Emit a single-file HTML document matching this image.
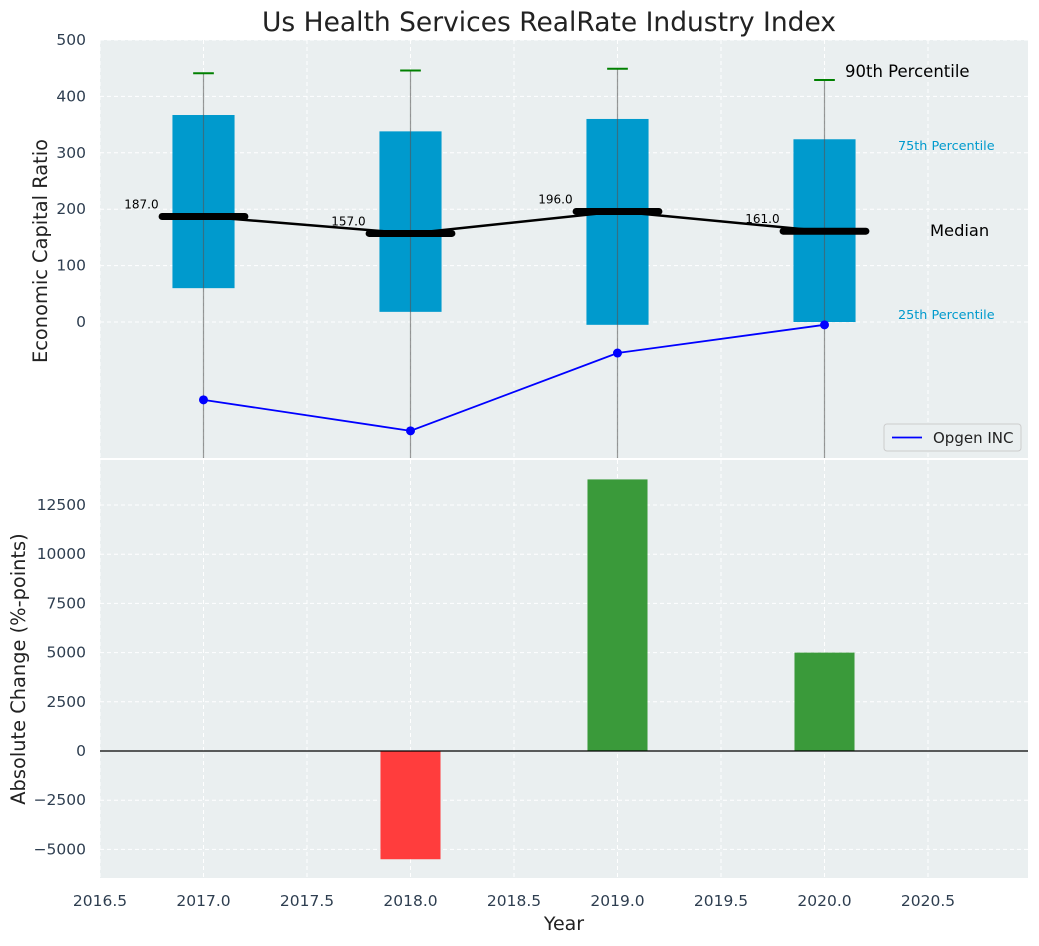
<!DOCTYPE html>
<html><head><meta charset="utf-8"><style>
body{margin:0;background:#fff;font-family:"DejaVu Sans","Liberation Sans",sans-serif;}
svg text{font-family:"DejaVu Sans","Liberation Sans",sans-serif;}
</style></head><body>
<svg id="c" width="1039" height="942" xmlns="http://www.w3.org/2000/svg"></svg>
<script>
const years=[2017,2018,2019,2020];
const q75=[367,338,360,324];
const q25=[60,18,-5,0];
const medians=[187,157,196,161];
const p90=[441,446,449,429];
const opgen=[-138,-193,-55,-5];
const changes=[0,-5500,13800,5000];
const xTicks=[2016.5,2017,2017.5,2018,2018.5,2019,2019.5,2020,2020.5];
const yTopTicks=[0,100,200,300,400,500];
const yBotTicks=[-5000,-2500,0,2500,5000,7500,10000,12500];

const svg=document.getElementById('c');const NS='http://www.w3.org/2000/svg';
function mk(t,a,p){const e=document.createElementNS(NS,t);for(const k in a)e.setAttribute(k,a[k]);(p||svg).appendChild(e);return e;}
const L=100,R=1028;
const X=v=>L+(v-2016.5)*207;
const T0=40,T1=458,B0=460,B1=878;
const Yt=v=>322-v*0.564;
const Yb=v=>751-v*0.01968;
const tc='#2e3e50';
const FS=15.5;
function panel(y0,y1,name){const r=mk('rect',{x:L,y:y0,width:R-L,height:y1-y0,fill:'#eaeff0'});
 xTicks.forEach(v=>mk('line',{x1:X(v),x2:X(v),y1:y0,y2:y1,stroke:'#fff','stroke-dasharray':'4,3','stroke-width':1}));}
panel(T0,T1,'top-panel');panel(B0,B1,'bottom-panel');
yTopTicks.forEach(v=>{mk('line',{x1:L,x2:R,y1:Yt(v),y2:Yt(v),stroke:'#fff','stroke-dasharray':'4,3'});const t=mk('text',{x:L-14,y:Yt(v)+5,'text-anchor':'end','font-size':FS,fill:tc});t.textContent=v;});
yBotTicks.forEach(v=>{mk('line',{x1:L,x2:R,y1:Yb(v),y2:Yb(v),stroke:'#fff','stroke-dasharray':'4,3'});const t=mk('text',{x:L-14,y:Yb(v)+5,'text-anchor':'end','font-size':FS,fill:tc});t.textContent=v<0?'−'+(-v):v;});
xTicks.forEach(v=>{const t=mk('text',{x:X(v),y:906,'text-anchor':'middle','font-size':FS,fill:tc});t.textContent=v.toFixed(1);});
const g=mk('g',{'clip-path':'url(#ct)'});
const cp=mk('clipPath',{id:'ct'});mk('rect',{x:L,y:T0,width:R-L,height:T1-T0},cp);
years.forEach((y,i)=>{
 const b=mk('rect',{x:X(y-0.15),y:Yt(q75[i]),width:0.3*207,height:Yt(q25[i])-Yt(q75[i]),fill:'#009acd'},g);
 
 mk('line',{x1:X(y),x2:X(y),y1:Yt(p90[i]),y2:T1,stroke:'#555','stroke-opacity':0.6,'stroke-width':1.2},g);
 mk('line',{x1:X(y-0.05),x2:X(y+0.05),y1:Yt(p90[i]),y2:Yt(p90[i]),stroke:'green','stroke-width':2},g);
 mk('line',{x1:X(y-0.2),x2:X(y+0.2),y1:Yt(medians[i]),y2:Yt(medians[i]),stroke:'#000','stroke-width':7,'stroke-linecap':'round'},g);
 const t=mk('text',{x:X(y-0.3),y:Yt(medians[i])-8,'text-anchor':'middle','font-size':12,fill:'#000'});t.textContent=medians[i].toFixed(1);
 
});
const ml=mk('polyline',{points:years.map((y,i)=>X(y)+','+Yt(medians[i])).join(' '),fill:'none',stroke:'#000','stroke-width':2.5},g);

const ol=mk('polyline',{points:years.map((y,i)=>X(y)+','+Yt(opgen[i])).join(' '),fill:'none',stroke:'blue','stroke-width':1.8},g);

years.forEach((y,i)=>{const c=mk('circle',{cx:X(y),cy:Yt(opgen[i]),r:4.5,fill:'blue'},g);});
[['90th Percentile',845,77,16.5,'#000'],['75th Percentile',898,150,12.8,'#009acd'],['Median',930,236,16.3,'#000'],['25th Percentile',898,319,12.8,'#009acd']].forEach(a=>{const t=mk('text',{x:a[1],y:a[2],'font-size':a[3],fill:a[4]});t.textContent=a[0];});
const lg=mk('g',{});
mk('rect',{x:884,y:424,width:137,height:27,rx:3,fill:'#eaeff0',stroke:'#ccc'},lg);
mk('line',{x1:892,x2:922,y1:437.5,y2:437.5,stroke:'blue','stroke-width':1.8},lg);
const lt=mk('text',{x:933,y:443,'font-size':15,fill:'#222'},lg);lt.textContent='Opgen INC';
years.forEach((y,i)=>{if(!changes[i])return;const v=changes[i];const b=mk('rect',{x:X(y-0.145),y:Math.min(Yb(v),Yb(0)),width:0.29*207,height:Math.abs(Yb(v)-Yb(0)),fill:v>0?'#3a9a3a':'#ff3d3d'});});
mk('line',{x1:L,x2:R,y1:Yb(0),y2:Yb(0),stroke:'#000','stroke-width':1.2});
const tt=mk('text',{x:549,y:31,'text-anchor':'middle','font-size':26.5,fill:'#222'});tt.textContent='Us Health Services RealRate Industry Index';
const xt=mk('text',{x:564,y:930,'text-anchor':'middle','font-size':19,fill:'#222'});xt.textContent='Year';
const y1=mk('text',{x:0,y:0,transform:'translate(47,251) rotate(-90)','text-anchor':'middle','font-size':19.4,fill:'#222'});y1.textContent='Economic Capital Ratio';
const y2=mk('text',{x:0,y:0,transform:'translate(25,669) rotate(-90)','text-anchor':'middle','font-size':19.4,fill:'#222'});y2.textContent='Absolute Change (%-points)';
</script>
</body></html>
